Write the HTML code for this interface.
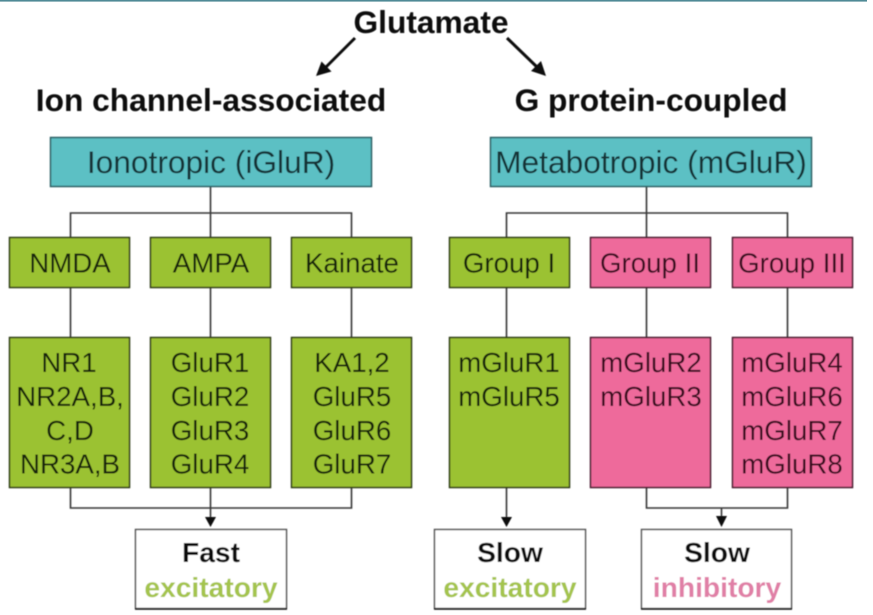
<!DOCTYPE html>
<html>
<head>
<meta charset="utf-8">
<style>
html,body{margin:0;padding:0;background:#fff;width:873px;height:615px;overflow:hidden}
svg{display:block}
text{font-family:"Liberation Sans",sans-serif;text-anchor:middle}
.t{font-size:27.7px;fill:#12220a}
.p{font-size:27.7px;fill:#380c1e}
.b{font-weight:bold;fill:#0a0a0a}
.box{stroke:#2e3a12;stroke-width:1.5}
.pk{stroke:#451b2c;stroke-width:1.5}
.l{stroke:#383838;stroke-width:1.6;fill:none}
</style>
</head>
<body>
<svg width="873" height="615" viewBox="0 0 873 615" xmlns="http://www.w3.org/2000/svg">
<defs><filter id="f" x="-2%" y="-2%" width="104%" height="104%"><feGaussianBlur stdDeviation="0.45"/></filter></defs>
<rect x="0" y="0" width="867" height="1.6" fill="#4f8a96"/>
<g filter="url(#f)">
<!-- connectors -->
<path class="l" d="M210.500 187V337M70.500 237V213H351.500V237M70.500 288V337M351.500 288V337M70.500 488V508H351.500V488M210.500 488V518"/>
<path class="l" d="M646.500 187V337M506.500 237V213H787.500V237M506.500 288V337M787.500 288V337M506.500 488V518M646.500 488V508H787.500V488M721.500 508V517"/>
<path d="M205 517H216L210.500 527Z M501 517H512L506.500 527Z M716 516H727L721.500 527Z" fill="#111"/>
<!-- main arrows -->
<path d="M355 38L325 68" stroke="#111" stroke-width="3" fill="none"/>
<path d="M316 76L321.500 61.500L331.500 71.500Z" fill="#111"/>
<path d="M507 38L538 68" stroke="#111" stroke-width="3" fill="none"/>
<path d="M546 76L531 71L541 61Z" fill="#111"/>
<!-- headings -->
<text class="b" x="431" y="33" font-size="31.700">Glutamate</text>
<text class="b" x="211" y="111" font-size="31.700">Ion channel-associated</text>
<text class="b" x="651" y="111" font-size="31.700">G protein-coupled</text>
<!-- top boxes -->
<rect class="box" x="50.500" y="137.500" width="321" height="49" fill="#5bc0c4" style="stroke:#2e5f63"/>
<rect class="box" x="490.500" y="137.500" width="321" height="49" fill="#5bc0c4" style="stroke:#2e5f63"/>
<text x="211" y="173" font-size="31.700" fill="#143035">Ionotropic (iGluR)</text>
<text x="651" y="173" font-size="31.700" fill="#143035">Metabotropic (mGluR)</text>
<!-- green/pink row 1 -->
<rect class="box" x="9.500" y="237.500" width="120" height="50" fill="#9bc232"/>
<rect class="box" x="150.500" y="237.500" width="120" height="50" fill="#9bc232"/>
<rect class="box" x="291.500" y="237.500" width="120" height="50" fill="#9bc232"/>
<rect class="box" x="449.500" y="237.500" width="120" height="50" fill="#9bc232"/>
<rect class="pk" x="590.500" y="237.500" width="120" height="50" fill="#ee6a9b"/>
<rect class="pk" x="732.500" y="237.500" width="120" height="50" fill="#ee6a9b"/>
<text class="t" x="70" y="272.500">NMDA</text>
<text class="t" x="211" y="272.500">AMPA</text>
<text class="t" x="352" y="272.500">Kainate</text>
<text class="t" x="509" y="272.500">Group I</text>
<text class="p" x="650" y="272.500">Group II</text>
<text class="p" x="792" y="272.500">Group III</text>
<!-- row 2 -->
<rect class="box" x="9.500" y="337.500" width="120" height="150" fill="#9bc232"/>
<rect class="box" x="150.500" y="337.500" width="120" height="150" fill="#9bc232"/>
<rect class="box" x="291.500" y="337.500" width="120" height="150" fill="#9bc232"/>
<rect class="box" x="449.500" y="337.500" width="120" height="150" fill="#9bc232"/>
<rect class="pk" x="590.500" y="337.500" width="120" height="150" fill="#ee6a9b"/>
<rect class="pk" x="732.500" y="337.500" width="120" height="150" fill="#ee6a9b"/>
<text class="t" x="69" y="372">NR1</text>
<text class="t" x="70" y="406">NR2A,B,</text>
<text class="t" x="70" y="440">C,D</text>
<text class="t" x="70" y="473.500">NR3A,B</text>
<text class="t" x="210" y="372">GluR1</text>
<text class="t" x="210" y="406">GluR2</text>
<text class="t" x="210" y="440">GluR3</text>
<text class="t" x="210" y="473.500">GluR4</text>
<text class="t" x="352" y="372">KA1,2</text>
<text class="t" x="352" y="406">GluR5</text>
<text class="t" x="352" y="440">GluR6</text>
<text class="t" x="352" y="473.500">GluR7</text>
<text class="t" x="509" y="372">mGluR1</text>
<text class="t" x="509" y="406">mGluR5</text>
<text class="p" x="651" y="372">mGluR2</text>
<text class="p" x="651" y="406">mGluR3</text>
<text class="p" x="792" y="372">mGluR4</text>
<text class="p" x="792" y="406">mGluR6</text>
<text class="p" x="792" y="440">mGluR7</text>
<text class="p" x="792" y="473.500">mGluR8</text>
<!-- bottom boxes -->
<g fill="#fff" stroke="#555" stroke-width="1.500">
<rect x="135.500" y="529.500" width="151" height="79"/>
<rect x="434.500" y="529.500" width="151" height="79"/>
<rect x="641.500" y="529.500" width="150" height="79"/>
</g>
<path d="M135 609H287M434 609H586M641 609H792" stroke="#111" stroke-width="1.500"/>
<text class="b" x="211" y="562" font-size="28.200">Fast</text>
<text x="211" y="597" font-size="28.200" font-weight="bold" fill="#a4c44d">excitatory</text>
<text class="b" x="510" y="562" font-size="28.200">Slow</text>
<text x="510" y="597" font-size="28.200" font-weight="bold" fill="#a4c44d">excitatory</text>
<text class="b" x="717" y="562" font-size="28.200">Slow</text>
<text x="717" y="597" font-size="28.200" font-weight="bold" fill="#e07fa6">inhibitory</text>
</g>
</svg>
</body>
</html>
